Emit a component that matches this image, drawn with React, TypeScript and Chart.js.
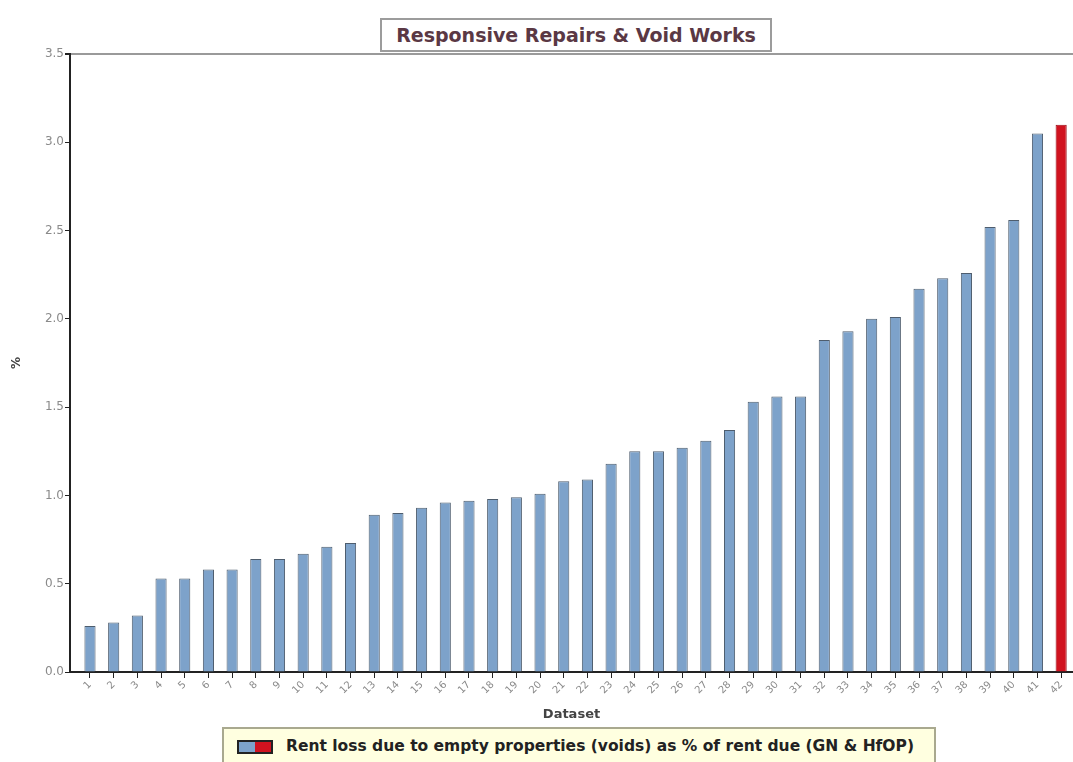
import React, { useEffect, useRef } from "react";
import { Chart, registerables } from "chart.js";

Chart.register(...registerables);

const chartTitle = "Responsive Repairs & Void Works";
const legendLabel = "Rent loss due to empty properties (voids) as % of rent due (GN & HfOP)";
const xAxisTitle = "Dataset";
const yAxisTitle = "%";

const categories = [
  "1", "2", "3", "4", "5", "6", "7", "8", "9", "10",
  "11", "12", "13", "14", "15", "16", "17", "18", "19", "20",
  "21", "22", "23", "24", "25", "26", "27", "28", "29", "30",
  "31", "32", "33", "34", "35", "36", "37", "38", "39", "40",
  "41", "42",
];

const values = [
  0.26, 0.28, 0.32, 0.53, 0.53, 0.58, 0.58, 0.64, 0.64, 0.67,
  0.71, 0.73, 0.89, 0.90, 0.93, 0.96, 0.97, 0.98, 0.99, 1.01,
  1.08, 1.09, 1.18, 1.25, 1.25, 1.27, 1.31, 1.37, 1.53, 1.56,
  1.56, 1.88, 1.93, 2.00, 2.01, 2.17, 2.23, 2.26, 2.52, 2.56,
  3.05, 3.10,
];

const highlightIndex = 41;
const yTicks = [0, 0.5, 1.0, 1.5, 2.0, 2.5, 3.0, 3.5];

const BLUE = "#7da2ca";
const RED = "#d0121f";

export default function App() {
  const canvasRef = useRef<HTMLCanvasElement | null>(null);

  useEffect(() => {
    const canvas = canvasRef.current;
    if (!canvas) return;
    document.body.style.margin = "0";
    document.body.style.overflow = "hidden";

    const chart = new Chart(canvas, {
      type: "bar",
      data: {
        datasets: [
          {
            label: legendLabel,
            data: values.map((v, i) => ({ x: i + 1, y: v })),
            backgroundColor: values.map((_, i) => (i === highlightIndex ? RED : BLUE)),
            borderColor: values.map((_, i) => (i === highlightIndex ? "#9a0a14" : "#4e5d6e")),
            borderWidth: 1,
            barPercentage: 0.47,
            categoryPercentage: 1,
          },
        ],
      },
      options: {
        animation: false,
        responsive: false,
        maintainAspectRatio: false,
        layout: { padding: { top: 54, left: 0, right: 0, bottom: 36 } },
        plugins: {
          legend: { display: false },
          title: { display: false },
          tooltip: { enabled: false },
        },
        scales: {
          x: {
            type: "linear",
            offset: false,
            min: 0.156,
            max: 42.5,
            afterBuildTicks: (scale: any) => {
              scale.ticks = categories.map((_, i) => ({ value: i + 1 }));
            },
            afterFit: (scale: any) => {
              scale.height = 54;
              scale.paddingLeft = 0;
              scale.paddingRight = 0;
            },
            ticks: {
              autoSkip: false,
              minRotation: 45,
              maxRotation: 45,
              color: "#8a8a8a",
              font: { family: "DejaVu Sans", size: 10 },
              padding: 1,
              callback: (v: any) => categories[Math.round(v) - 1] ?? "",
            },
            grid: {
              offset: false,
              drawOnChartArea: false,
              drawTicks: true,
              tickLength: 6,
              color: "#222",
              tickColor: "#222",
            },
            border: { color: "#222", width: 2 },
            title: {
              display: true,
              text: xAxisTitle,
              color: "#444",
              font: { family: "DejaVu Sans", size: 13, weight: "bold" },
              padding: { top: 0, bottom: 4 },
            },
          },
          y: {
            min: 0,
            max: 3.5,
            afterBuildTicks: (scale: any) => {
              scale.ticks = yTicks.map((v) => ({ value: v }));
            },
            afterFit: (scale: any) => {
              scale.width = 70;
            },
            ticks: {
              color: "#8a8a8a",
              font: { family: "DejaVu Sans", size: 12 },
              padding: 1,
              callback: (v: any) => Number(v).toFixed(1),
            },
            grid: {
              drawOnChartArea: true,
              drawTicks: true,
              tickLength: 5,
              color: (ctx: any) => (ctx.tick && ctx.tick.value === 3.5 ? "#9a9a9a" : "rgba(0,0,0,0)"),
              tickColor: "#222",
              lineWidth: (ctx: any) => (ctx.tick && ctx.tick.value === 3.5 ? 2 : 1),
            },
            border: { color: "#222", width: 2 },
            title: {
              display: true,
              text: yAxisTitle,
              color: "#444",
              font: { family: "DejaVu Sans", size: 12, weight: "bold" },
              padding: { top: 10, bottom: 0 },
            },
          },
        },
      },
    });

    return () => {
      chart.destroy();
    };
  }, []);

  return (
    <div style={{ position: "absolute", left: 0, top: 0, width: 1073, height: 762, background: "#fff", overflow: "hidden" }}>
      <canvas ref={canvasRef} width={1073} height={762} style={{ position: "absolute", left: 0, top: 0 }} />
      <div
        style={{
          position: "absolute",
          left: 380,
          top: 18,
          width: 388,
          height: 30,
          border: "2px solid #9c9c9c",
          background: "#fff",
          display: "flex",
          alignItems: "center",
          justifyContent: "center",
          fontFamily: "'DejaVu Sans', sans-serif",
          fontWeight: "bold",
          fontSize: 19,
          color: "#5a3844",
          whiteSpace: "nowrap",
        }}
      >
        {chartTitle}
      </div>
      <div
        style={{
          position: "absolute",
          left: 222,
          top: 727,
          width: 710,
          height: 40,
          border: "2px solid #a9a98f",
          background: "#ffffe0",
          fontFamily: "'DejaVu Sans', sans-serif",
          fontWeight: "bold",
          fontSize: 15.5,
          color: "#222",
        }}
      >
        <div
          style={{
            position: "absolute",
            left: 13,
            top: 11,
            width: 32,
            height: 10,
            border: "2px solid #222",
            display: "flex",
          }}
        >
          <div style={{ flex: 1, background: BLUE }} />
          <div style={{ flex: 1, background: RED }} />
        </div>
        <div style={{ position: "absolute", left: 62, top: 8, whiteSpace: "nowrap" }}>{legendLabel}</div>
      </div>
    </div>
  );
}
